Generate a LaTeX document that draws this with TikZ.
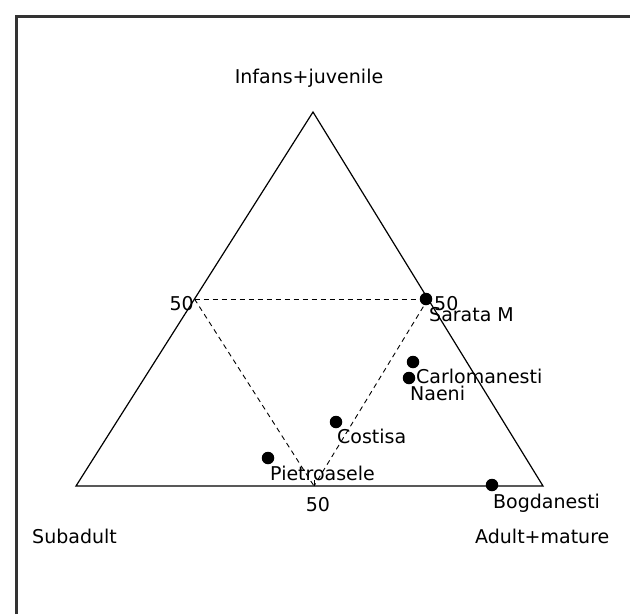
\documentclass[tikz,border=0pt]{standalone}
\usepackage{fontspec}
\setmainfont{DejaVu Sans}
\begin{document}
\begin{tikzpicture}[x=1pt,y=-1pt,
  side/.style={line width=1.2pt,black},
  guide/.style={line width=0.9pt,black,dash pattern=on 5pt off 4pt},
  frameline/.style={line width=3pt,black!80},
  site/.style={circle,fill=black,inner sep=0pt,minimum size=12.5pt},
  lbl/.style={inner sep=0pt,font=\fontsize{19pt}{22pt}\selectfont,text=black},
]
\useasboundingbox (0,0) rectangle (630,614);
\fill[white] (0,0) rectangle (630,614);
% frame
\draw[frameline] (16,614) -- (16,16) -- (630,16);
% triangle vertices and midpoints
\coordinate (T) at (313,112);
\coordinate (L) at (76,486);
\coordinate (R) at (543,486);
\coordinate (ML) at (194.5,299);
\coordinate (MR) at (428,299);
\coordinate (MB) at (314,486);
\draw[side] (T) -- (L) -- (R) -- cycle;
% ticks at 50
\draw[line width=0.9pt] (MB) -- ++(0,-6);
\draw[line width=0.9pt] (ML) -- ++(5,0);
\draw[line width=0.9pt] (MR) -- ++(-5,0);
% dashed inner triangle
\draw[guide] (ML) -- (MR);
\draw[guide] (ML) -- (MB);
\draw[guide] (MR) -- (MB);
% axis labels
\node[lbl,anchor=base] (ltop) at (309,83) {Infans+juvenile};
\node[lbl,anchor=base west] (lleft) at (32,543) {Subadult};
\node[lbl,anchor=base west] (lright) at (475,543) {Adult+mature};
\node[lbl,anchor=base east] (f1) at (194,310) {50};
\node[lbl,anchor=base west] (f2) at (434,310) {50};
\node[lbl,anchor=base] (f3) at (318,511) {50};
% sites
\node[site] (sar) at (426,299) {};
\node[site] (car) at (413,362) {};
\node[site] (nae) at (409,378) {};
\node[site] (cos) at (336,422) {};
\node[site] (pie) at (268,458) {};
\node[site] (bog) at (492,485) {};
\node[lbl,anchor=base west] at (429,321) {Sarata M};
\node[lbl,anchor=base west] at (416,383) {Carlomanesti};
\node[lbl,anchor=base west] at (410,400) {Naeni};
\node[lbl,anchor=base west] at (337,443) {Costisa};
\node[lbl,anchor=base west] at (270,480) {Pietroasele};
\node[lbl,anchor=base west] at (493,508) {Bogdanesti};
\end{tikzpicture}
\end{document}
